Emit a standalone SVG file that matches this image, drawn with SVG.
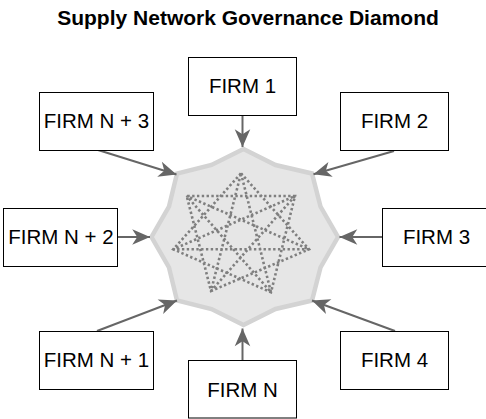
<svg xmlns="http://www.w3.org/2000/svg" width="486" height="419" viewBox="0 0 486 419">
<style>
.box{fill:#ffffff;stroke:#000000;stroke-width:1}
.lbl{font-family:"Liberation Sans",Arial,Helvetica,sans-serif;font-size:20.5px;fill:#000000;text-anchor:middle}
.title{font-family:"Liberation Sans",Arial,Helvetica,sans-serif;font-size:21px;font-weight:bold;fill:#000000;text-anchor:middle}
.conn{stroke:#666666;stroke-width:2;fill:none;marker-end:url(#arr)}
.dot{fill:none;stroke:#7f7f7f;stroke-width:2.6;stroke-dasharray:2.4 2.4}
</style>
<defs>
<marker id="arr" markerUnits="userSpaceOnUse" markerWidth="20" markerHeight="20" viewBox="-17 -8 18 16" refX="0" refY="0" orient="auto">
<path d="M0,0 L-16,-7 L-11.5,0 L-16,7 Z" fill="#666666"/>
</marker>
</defs>
<rect width="486" height="419" fill="#ffffff"/>
<text class="title" x="248" y="25">Supply Network Governance Diamond</text>

<g id="hub">
<polygon points="243.5,149 275.5,165 312,173.5 320.5,206.5 338,237 320.5,267.5 312,300.5 275.5,309 243.5,325 211.5,309 177,300.5 169,267.5 151.5,237 169,206.5 177,173.5 211.5,165" fill="#e6e6e6" stroke="#d3d3d3" stroke-width="4.5" stroke-linejoin="miter"/>
<polygon class="dot" points="241,173.3 309,249.3 211,291 186.7,196 295,196 271,292.3 173.3,249.3"/>
<polygon class="dot" points="241,173.3 271,292.3 186.7,196 309,249.3 173.3,249.3 295,196 211,291"/>
</g>

<g id="connectors">
<line class="conn" x1="242.5" y1="115" x2="242.5" y2="147"/>
<line class="conn" x1="394" y1="151" x2="313.5" y2="174.3"/>
<line class="conn" x1="382" y1="237" x2="339.5" y2="237"/>
<line class="conn" x1="395" y1="331" x2="312" y2="300.5"/>
<line class="conn" x1="242.5" y1="361" x2="242.5" y2="328.5"/>
<line class="conn" x1="97" y1="331" x2="177" y2="300.5"/>
<line class="conn" x1="118" y1="237" x2="150" y2="237"/>
<line class="conn" x1="98" y1="150" x2="176.5" y2="174.5"/>
</g>

<g id="firm1"><rect class="box" x="188.5" y="57.5" width="108" height="58"/><text class="lbl" x="242.5" y="93">FIRM 1</text></g>
<g id="firm2"><rect class="box" x="340.5" y="92.5" width="108" height="58"/><text class="lbl" x="394.5" y="128">FIRM 2</text></g>
<g id="firm3"><rect class="box" x="382.5" y="208.5" width="108" height="58"/><text class="lbl" x="436.5" y="244">FIRM 3</text></g>
<g id="firm4"><rect class="box" x="340.5" y="331.5" width="108" height="58"/><text class="lbl" x="394.5" y="366.5">FIRM 4</text></g>
<g id="firmN"><rect class="box" x="188.5" y="360.5" width="108" height="57.5"/><text class="lbl" x="242.5" y="397">FIRM N</text></g>
<g id="firmN1"><rect class="box" x="39.5" y="331.5" width="114" height="58"/><text class="lbl" x="96.5" y="366.5">FIRM N + 1</text></g>
<g id="firmN2"><rect class="box" x="3.5" y="208.5" width="114" height="58"/><text class="lbl" x="61" y="244">FIRM N + 2</text></g>
<g id="firmN3"><rect class="box" x="39.5" y="92.5" width="114" height="58"/><text class="lbl" x="96.5" y="128">FIRM N + 3</text></g>
</svg>
